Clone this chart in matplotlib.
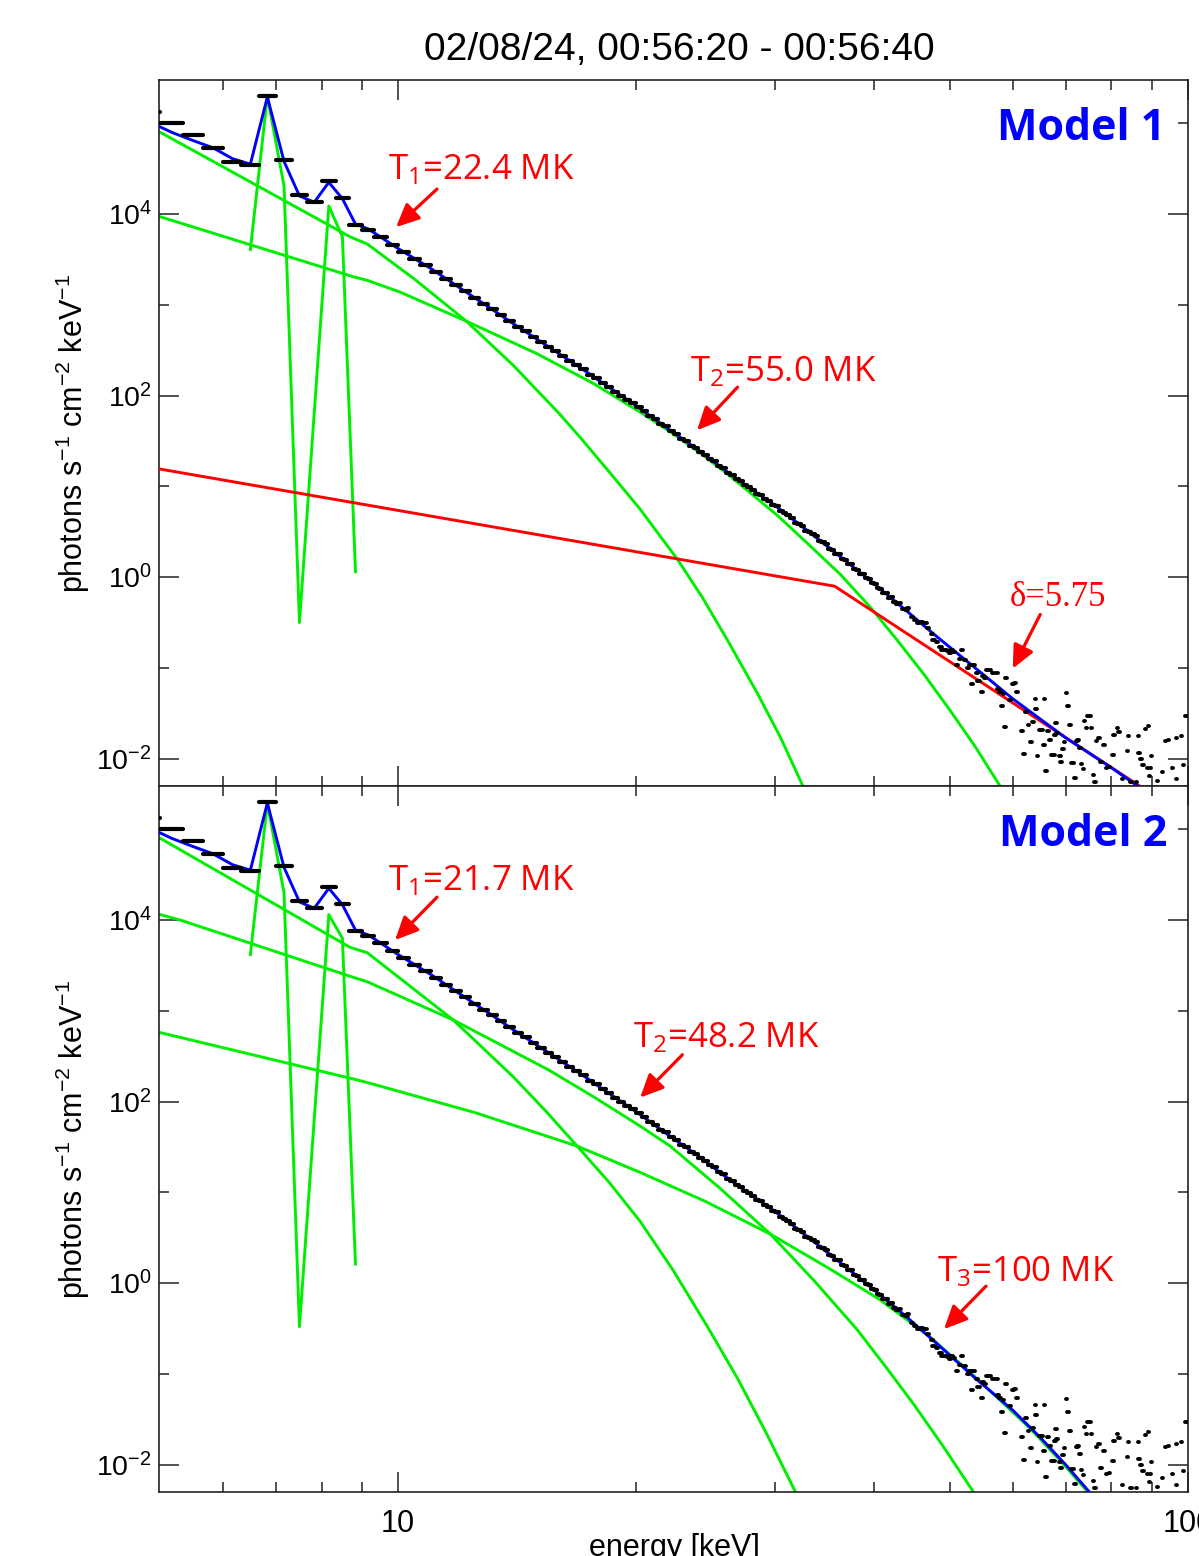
import numpy as np
import matplotlib
matplotlib.use("Agg")
import matplotlib.pyplot as plt
from matplotlib.ticker import FixedLocator, FixedFormatter, NullFormatter

plt.rcParams['font.family'] = ['Liberation Sans', 'DejaVu Sans']
plt.rcParams['mathtext.default'] = 'regular'

# ---- observed spectrum (same in both panels), log10 photons s-1 cm-2 keV-1
bin_w = 1.0 / 3.0          # keV
grid_lo = 4.667            # low edge of the first bin
flux_grid = [
    5.13, 5.00, 4.87, 4.73, 4.57, 4.54, 5.30, 4.60, 4.21, 4.13, 4.36, 4.18, 3.88,
    3.83, 3.75, 3.66, 3.58, 3.51, 3.44, 3.36, 3.29, 3.22, 3.15, 3.08, 3.01,
    2.95, 2.89, 2.82, 2.76, 2.71, 2.65, 2.59, 2.54, 2.49, 2.44, 2.38, 2.34,
    2.29, 2.23, 2.19, 2.14, 2.09, 2.04, 2.00, 1.95, 1.92, 1.87, 1.83, 1.78,
    1.74, 1.69, 1.66, 1.61, 1.58, 1.52, 1.50, 1.45, 1.42, 1.38, 1.35, 1.30,
    1.28, 1.22, 1.20, 1.15, 1.13, 1.08, 1.06, 1.01, 0.99, 0.96, 0.92, 0.90,
    0.86, 0.84, 0.80, 0.78, 0.73, 0.71, 0.68, 0.65, 0.60, 0.59, 0.56, 0.51,
    0.50, 0.47, 0.45, 0.40, 0.39, 0.37, 0.31, 0.30, 0.25, 0.25, 0.20, 0.19,
    0.15, 0.14, 0.09, 0.08, 0.03, 0.04, -0.01, -0.02, -0.07, -0.08, -0.12, -0.13,
    -0.18, -0.17, -0.23, -0.22, -0.27, -0.30,
]
# high energy points (noisy, some bins missing)
hi_e = [43.2, 43.6, 44.0, 44.2, 44.7, 45.1, 45.6, 46.0, 46.5, 46.9, 47.4, 47.6,
        48.1, 48.6, 48.8, 49.3, 49.7, 50.0, 50.2, 50.5, 51.0, 51.5, 51.7, 52.2,
        52.7, 53.0, 53.3, 53.5, 54.1, 54.3, 54.8, 55.0, 55.4, 55.6, 56.2, 56.7,
        57.3, 57.5, 57.8, 58.1, 58.4, 58.7, 58.9, 59.5, 60.0, 60.4, 60.7,
        61.6, 62.0, 62.4, 62.8, 63.3, 63.6, 64.1, 64.2, 64.5, 64.9, 65.4, 65.7,
        65.8, 66.1, 66.5, 66.9, 67.3, 67.6, 67.9, 68.1, 68.3, 68.8, 69.1, 69.5,
        69.8, 70.2, 70.5, 70.9, 71.2, 71.6, 71.9, 72.3, 72.6, 73.0, 73.3, 73.7,
        74.0, 74.4, 74.7, 75.3, 75.5, 75.9, 76.2, 76.6, 77.2, 77.6, 78.3, 78.8,
        79.5, 80.4, 80.6, 81.4, 81.8, 82.6, 83.9, 84.0, 84.7, 86.0, 86.6, 86.7,
        87.2, 87.7, 88.3, 88.9, 89.2, 89.4, 89.6, 90.0, 91.5, 92.9, 93.6, 94.5,
        95.6, 96.8, 96.8, 98.2, 98.8, 99.4]
hi_logf = [-0.28, -0.35, -0.36, -0.34, -0.44, -0.47, -0.50, -0.49, -0.50, -0.56, -0.63, -0.69,
           -0.72, -0.77, -0.80, -0.80, -0.81, -0.84, -0.80, -0.82, -0.97, -0.90, -0.80, -0.91,
           -1.00, -0.97, -1.18, -0.97, -1.06, -1.14, -1.27, -1.09, -1.11, -1.02, -1.02, -1.06,
           -1.06, -1.23, -1.27, -1.42, -1.29, -1.65, -1.11, -1.35, -1.18, -1.17, -1.26,
           -1.69, -1.95, -1.49, -1.63, -1.82, -1.60, -1.34, -1.45, -1.97, -1.68, -1.68, -1.85,
           -1.34, -2.14, -1.69, -1.79, -1.96, -1.96, -1.74, -1.61, -1.72, -1.97, -2.04, -1.89,
           -1.82, -1.28, -1.42, -1.63, -2.05, -2.05, -2.21, -1.81, -1.79, -1.88, -2.06, -2.11,
           -1.58, -1.66, -1.53, -1.53, -1.66, -2.18, -2.26, -1.81, -1.77, -2.04, -1.85, -2.10,
           -2.09, -1.96, -1.74, -1.66, -1.71, -2.22, -1.92, -1.75, -2.26, -2.26, -1.75, -1.94,
           -2.00, -2.07, -1.67, -2.10, -1.64, -2.19, -2.10, -1.97, -2.25, -2.15, -1.81, -1.79,
           -2.10, -1.77, -2.22, -1.75, -2.07, -1.53]

# ---- Model 1 (two thermal + broken power law)
tot1_e = [4.83, 5.17, 5.5, 5.83, 6.17, 6.5, 6.83, 7.17, 7.5, 7.83, 8.17, 8.5, 8.83, 9.17,
          10, 11, 12, 13, 14, 15, 16, 17, 18, 20, 22, 24, 26, 28, 30, 33, 36, 40,
          44, 48, 55, 60, 70, 80, 90, 100]
tot1_f = [5.02, 4.90, 4.81, 4.73, 4.61, 4.55, 5.29, 4.58, 4.20, 4.13, 4.35, 4.17, 3.89, 3.835,
          3.62, 3.40, 3.18, 2.98, 2.79, 2.62, 2.46, 2.31, 2.16, 1.89, 1.63, 1.40, 1.17, 0.97,
          0.79, 0.51, 0.25, -0.07, -0.37, -0.65, -1.07, -1.34, -1.77, -2.10, -2.41, -2.68]
line1_e = [6.5, 6.83, 7.17, 7.5, 8.17, 8.5, 8.83]
line1_f = [3.61, 5.30, 4.31, -0.50, 4.09, 3.75, 0.06]
th1a_e = [5.0, 8.69, 9.14, 10.5, 12.2, 14.0, 16.0, 17.0, 18.5, 20.2, 22.6, 24.3,
          26.1, 28.5, 30.5, 32.3, 34.0]
th1a_f = [4.90, 3.75, 3.67, 3.28, 2.82, 2.33, 1.80, 1.54, 1.16, 0.76, 0.19, -0.23,
          -0.69, -1.28, -1.77, -2.24, -2.66]
th1b_e = [5.0, 8.77, 9.14, 10.06, 12.2, 15.0, 17.7, 20.4, 22.2, 24.1, 26.0, 27.9,
          30.3, 32.9, 36.3, 39.6, 42.8, 46.3, 50.0, 53.8, 57.8, 60.0]
th1b_f = [3.97, 3.31, 3.27, 3.14, 2.82, 2.46, 2.13, 1.80, 1.59, 1.37, 1.15, 0.93,
          0.67, 0.38, 0.03, -0.33, -0.69, -1.07, -1.47, -1.87, -2.30, -2.52]
pl1_e = [5.0, 35.7, 100.0]
pl1_f = [1.19, -0.10, -2.65]

# ---- Model 2 (three thermal)
tot2_e = tot1_e[:32] + [44, 48, 54, 60, 65, 70, 75, 80]
tot2_f = tot1_f[:32] + [-0.37, -0.66, -1.06, -1.40, -1.70, -2.00, -2.30, -2.60]
line2_e = [6.5, 6.83, 7.17, 7.5, 8.17, 8.5, 8.83]
line2_f = [3.62, 5.29, 4.30, -0.48, 4.06, 3.80, 0.21]
th2a_e = [5.0, 8.69, 9.14, 11.74, 14.0, 15.4, 16.85, 18.5, 20.25, 22.3, 24.6, 26.9,
          29.2, 31.8, 33.5]
th2a_f = [4.90, 3.70, 3.64, 2.90, 2.27, 1.89, 1.51, 1.11, 0.68, 0.14, -0.47, -1.05,
          -1.64, -2.29, -2.70]
th2b_e = [5.0, 5.3, 8.77, 9.14, 11.74, 15.5, 17.7, 20.25, 22.1, 25.6, 29.6, 33.6,
          38.1, 41.5, 45.0, 49.0, 53.4, 55.0]
th2b_f = [4.06, 4.00, 3.37, 3.32, 2.90, 2.35, 2.05, 1.73, 1.51, 1.04, 0.54, 0.03,
          -0.51, -0.93, -1.34, -1.80, -2.29, -2.45]
th2c_e = [5.0, 8.77, 9.14, 12.5, 16.85, 20.25, 24.5, 29.6, 35.0, 40.7, 47.1, 54.5,
          63.1, 69.0, 75.0, 80.0]
th2c_f = [2.76, 2.25, 2.21, 1.88, 1.51, 1.22, 0.90, 0.54, 0.17, -0.18, -0.59, -1.08,
          -1.60, -1.96, -2.32, -2.59]

GREEN = '#00ee00'
W, H = 1199, 1556


def lin(v):
    return 10.0 ** np.asarray(v)


def draw_data(ax):
    lo = grid_lo + bin_w * np.arange(len(flux_grid))
    ax.hlines(lin(flux_grid), lo, lo + bin_w, colors='black', linewidth=3.0,
              capstyle='round', zorder=5)
    e = np.asarray(hi_e)
    ax.hlines(lin(hi_logf), e - bin_w / 2, e + bin_w / 2, colors='black',
              linewidth=2.8, capstyle='round', zorder=5)


def setup(ax, xlabels):
    ax.set_xscale('log')
    ax.set_yscale('log')
    ax.set_xlim(4.98, 100)
    ax.set_ylim(5e-3, 3e5)
    ax.xaxis.set_major_locator(FixedLocator([10, 100]))
    ax.xaxis.set_minor_locator(FixedLocator([6, 7, 8, 9, 20, 30, 40, 50, 60, 70, 80, 90]))
    ax.xaxis.set_minor_formatter(NullFormatter())
    if xlabels:
        ax.xaxis.set_major_formatter(FixedFormatter(['10', '100']))
    else:
        ax.xaxis.set_major_formatter(NullFormatter())
    ax.yaxis.set_major_locator(FixedLocator([1e-2, 1, 1e2, 1e4]))
    ax.yaxis.set_major_formatter(FixedFormatter(['$10^{-2}$', '$10^{0}$', '$10^{2}$', '$10^{4}$']))
    ax.yaxis.set_minor_locator(FixedLocator([1e-1, 1e1, 1e3, 1e5]))
    ax.yaxis.set_minor_formatter(NullFormatter())
    ax.tick_params(which='both', direction='in', top=True, right=True, width=1.1, color='#222222')
    ax.tick_params(which='major', length=14.4)
    ax.tick_params(which='minor', length=7.2)
    ax.tick_params(axis='y', labelsize=20.5, pad=5)
    ax.tick_params(axis='x', labelsize=22, pad=12)
    for s in ax.spines.values():
        s.set_linewidth(1.2)
        s.set_color('#222222')
    ax.set_ylabel(r'photons s$^{-1}$ cm$^{-2}$ keV$^{-1}$', fontsize=22)
    ax.yaxis.set_label_coords((92 - 159) / 1029, 0.5)


def note(ax, text, pos, tail, tip, family='Open Sans', size=25):
    ax.text(pos[0], pos[1], text, color='red', fontsize=size, family=family,
            ha='left', va='baseline', zorder=8)
    ax.annotate('', xy=tip, xytext=tail,
                arrowprops=dict(arrowstyle='-|>,head_length=14,head_width=6.5',
                                mutation_scale=1, color='red', lw=2.3,
                                shrinkA=0, shrinkB=0), zorder=8)


fig = plt.figure(figsize=(W / 100, H / 100), dpi=100)
ax1 = fig.add_axes([159 / W, (H - 786) / H, 1029 / W, 706 / H])
ax2 = fig.add_axes([159 / W, (H - 1492) / H, 1029 / W, 706 / H])

# top panel
ax1.plot(th1a_e, lin(th1a_f), color=GREEN, lw=2.1, zorder=2)
ax1.plot(th1b_e, lin(th1b_f), color=GREEN, lw=2.1, zorder=2)
ax1.plot(line1_e, lin(line1_f), color=GREEN, lw=2.1, zorder=2)
ax1.plot(pl1_e, lin(pl1_f), color='red', lw=2.1, zorder=3)
ax1.plot(tot1_e, lin(tot1_f), color='blue', lw=2.1, zorder=4)
draw_data(ax1)
setup(ax1, False)
ax1.text(0.9776, 0.962, 'Model 1', transform=ax1.transAxes, ha='right', va='top',
         color='blue', fontsize=31, fontweight='bold', family='Open Sans')
note(ax1, r'T$_{1}$=22.4 MK', (9.71, 24300), (11.2, 18870), (9.94, 7190))
note(ax1, r'T$_{2}$=55.0 MK', (23.4, 144), (26.9, 124), (23.9, 41.5))
note(ax1, 'δ=5.75', (59.5, 0.475), (65.0, 0.388), (60.0, 0.0984),
     family='Liberation Serif', size=25)

# bottom panel
ax2.plot(th2a_e, lin(th2a_f), color=GREEN, lw=2.1, zorder=2)
ax2.plot(th2b_e, lin(th2b_f), color=GREEN, lw=2.1, zorder=2)
ax2.plot(th2c_e, lin(th2c_f), color=GREEN, lw=2.1, zorder=2)
ax2.plot(line2_e, lin(line2_f), color=GREEN, lw=2.1, zorder=2)
ax2.plot(tot2_e, lin(tot2_f), color='blue', lw=2.1, zorder=4)
draw_data(ax2)
setup(ax2, True)
ax2.text(0.980, 0.962, 'Model 2', transform=ax2.transAxes, ha='right', va='top',
         color='blue', fontsize=31, fontweight='bold', family='Open Sans')
note(ax2, r'T$_{1}$=21.7 MK', (9.71, 21370), (11.2, 17890), (9.91, 6029))
note(ax2, r'T$_{2}$=48.2 MK', (19.84, 392), (22.9, 328), (20.25, 110.7))
note(ax2, r'T$_{3}$=100 MK', (48.1, 1.05), (55.5, 0.927), (49.1, 0.312))

fig.text(679 / W, 1 - 50 / H, '02/08/24, 00:56:20 - 00:56:40', ha='center', va='center',
         fontsize=28)
fig.text(674 / W, 1 - 1533 / H, 'energy [keV]', ha='center', va='top', fontsize=22)

fig.savefig('out.png', dpi=100)
